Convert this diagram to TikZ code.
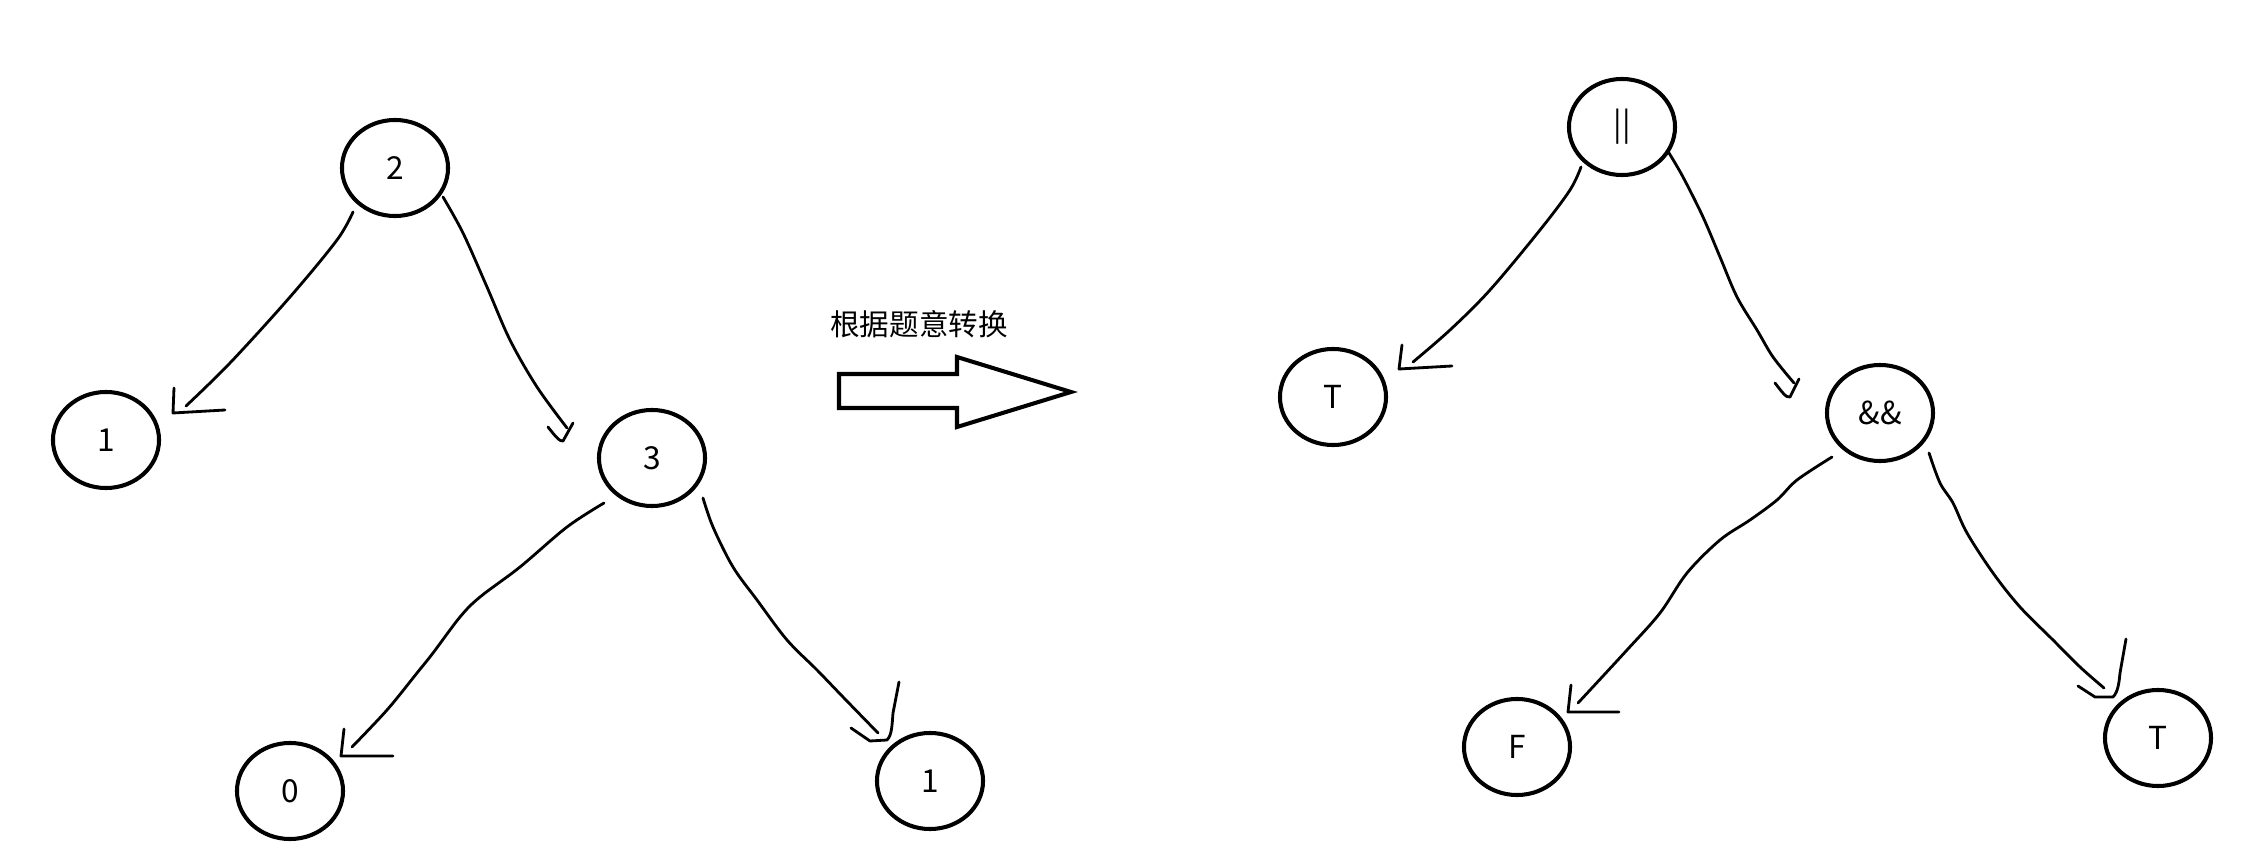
\documentclass[tikz,border=0pt]{standalone}
\usepackage{fontspec}
\setmainfont{Noto Sans CJK SC}
\usetikzlibrary{shapes.geometric,calc}
\tikzset{
  tnode/.style={draw, ellipse, line width=1.15pt, minimum width=1.06cm, minimum height=0.96cm, inner sep=0pt, font=\fontsize{9}{10}\selectfont},
  conn/.style={line width=0.8pt, line cap=round, line join=round},
  bigarrow/.style={draw, line width=1.15pt, line join=miter, fill=white},
  lbl/.style={font=\fontsize{8.4}{10}\selectfont, inner sep=0pt}
}
\begin{document}
\begin{tikzpicture}[x=0.01cm,y=-0.01cm]
\useasboundingbox (0,0) rectangle (2248,855);
% left tree
\node[tnode] (n2)  at (395,168) {2};
\node[tnode] (n1a) at (106,440) {1};
\node[tnode] (n3)  at (652,458) {3};
\node[tnode] (n0)  at (290,791) {0};
\node[tnode] (n1b) at (930,781) {1};
% right tree
\node[tnode] (nor)  at (1622,127) {||};
\node[tnode] (nT1)  at (1333,397) {T};
\node[tnode] (nand) at (1880,413) {\&\&};
\node[tnode] (nF)   at (1517,747) {F};
\node[tnode] (nT2)  at (2158,738) {T};
% connector ends
\coordinate (s21) at ($(n2)+(-42,44)$);
\coordinate (e21) at ($(n1a)+(80,-34)$);
\coordinate (s23) at ($(n2)+(48,29)$);
\coordinate (e23) at ($(n3)+(-85,-30)$);
\coordinate (s30) at ($(n3)+(-48,45)$);
\coordinate (e30) at ($(n0)+(62,-44)$);
\coordinate (s31) at ($(n3)+(51,40)$);
\coordinate (e31) at ($(n1b)+(-52,-48)$);
\coordinate (sO1) at ($(nor)+(-41,40)$);
\coordinate (eO1) at ($(nT1)+(80,-35)$);
\coordinate (sO2) at ($(nor)+(47,26)$);
\coordinate (eO2) at ($(nand)+(-86,-30)$);
\coordinate (sA1) at ($(nand)+(-48,44)$);
\coordinate (eA1) at ($(nF)+(61,-44)$);
\coordinate (sA2) at ($(nand)+(49,40)$);
\coordinate (eA2) at ($(nT2)+(-54,-50)$);
% connectors
\draw[conn] plot[smooth, tension=0.55] coordinates {(s21) (337,240) (290,297) (230,363) (e21)};
\draw[conn] (174,388) -- (173,413) -- (225,410);
\draw[conn] plot[smooth, tension=0.55] coordinates {(s23) (463,233) (487,287) (510,340) (537,387) (e23)};
\draw[conn] (548,427) .. controls (555,436) and (560,442) .. (563,441) -- (573,423);
\draw[conn] plot[smooth, tension=0.55] coordinates {(s30) (567,527) (520,567) (480,597) (460,617) (433,653) (417,673) (387,710) (e30)};
\draw[conn] (344,729) -- (341,756) -- (393,756);
\draw[conn] plot[smooth, tension=0.55] coordinates {(s31) (713,527) (733,567) (757,600) (787,640) (817,670) (843,697) (e31)};
\draw[conn] (851,728) -- (870,741) -- (887,740) .. controls (892,735) and (892,725) .. (893,713) -- (899,682);
\draw[conn] plot[smooth, tension=0.55] coordinates {(sO1) (1570,190) (1540,230) (1490,290) (1450,330) (eO1)};
\draw[conn] (1402,345) -- (1399,369) -- (1452,366);
\draw[conn] plot[smooth, tension=0.55] coordinates {(sO2) (1683,177) (1703,217) (1720,257) (1737,297) (1757,330) (1773,357) (eO2)};
\draw[conn] (1775,383) .. controls (1782,392) and (1786,398) .. (1790,397) -- (1799,379);
\draw[conn] plot[smooth, tension=0.55] coordinates {(sA1) (1797,480) (1777,500) (1750,520) (1720,540) (1687,573) (1660,613) (1627,650) (eA1)};
\draw[conn] (1571,685) -- (1568,712) -- (1619,712);
\draw[conn] plot[smooth, tension=0.55] coordinates {(sA2) (1940,483) (1953,503) (1967,533) (1993,573) (2020,607) (2053,640) (2080,667) (eA2)};
\draw[conn] (2078,686) -- (2095,697) -- (2113,697) .. controls (2118,692) and (2119,683) .. (2120,673) -- (2126,639);
% transformation arrow
\node[lbl] (lab) at (919,324) {根据题意转换};
\draw[bigarrow] (839,374) -- (957,374) -- (957,357) -- (1071,392) -- (957,427) -- (957,408) -- (839,408) -- cycle;
\end{tikzpicture}
\end{document}
